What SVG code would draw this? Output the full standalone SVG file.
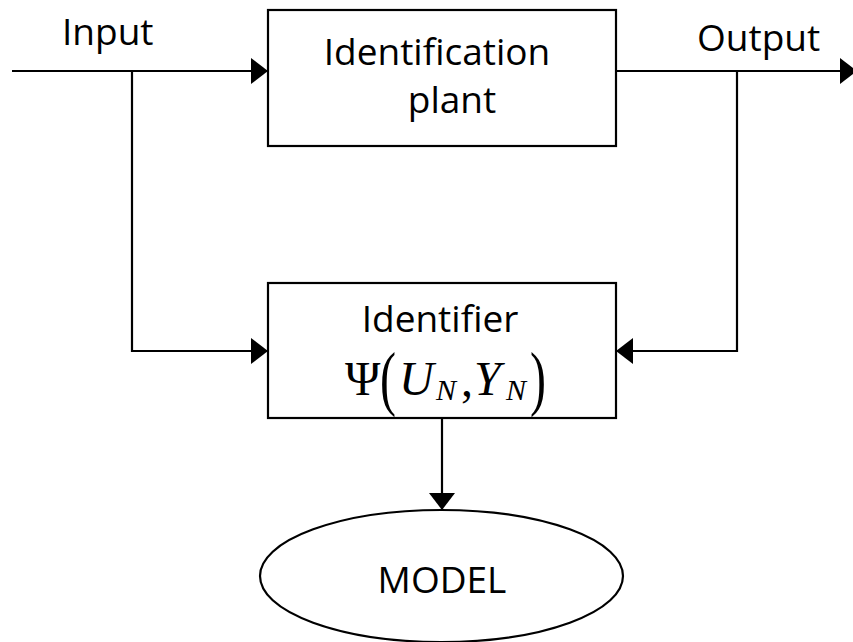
<svg xmlns="http://www.w3.org/2000/svg" width="853" height="642" viewBox="0 0 853 642">
<defs>
<style>
.box{fill:#fff;stroke:#000;stroke-width:2.2}
.wire{fill:none;stroke:#000;stroke-width:2.2}
.lbl{font-family:"Open Sans","Liberation Sans",sans-serif;font-size:37px;fill:#000}
.math{font-family:"Liberation Serif","Times New Roman",serif;fill:#000}
</style>
<marker id="arr" markerUnits="userSpaceOnUse" markerWidth="17" markerHeight="28" viewBox="0 0 17 28" refX="17" refY="14" orient="auto">
<path d="M0,1 L17,14 L0,27 Z" fill="#000"/>
</marker>
</defs>
<rect width="853" height="642" fill="#fff"/>
<g id="connectors">
<path class="wire" d="M12,71 H268" marker-end="url(#arr)"/>
<path class="wire" d="M132,71 V351 H268" marker-end="url(#arr)"/>
<path class="wire" d="M616,71 H857" marker-end="url(#arr)"/>
<path class="wire" d="M737,71 V351 H616" marker-end="url(#arr)"/>
<path class="wire" d="M442,418 V510" marker-end="url(#arr)"/>
</g>
<g id="input-label"><text class="lbl" x="62" y="45">Input</text></g>
<g id="output-label"><text class="lbl" x="697" y="51">Output</text></g>
<g id="plant">
<rect class="box" x="268" y="10" width="348" height="136"/>
<text class="lbl" x="437" y="65" text-anchor="middle">Identification</text>
<text class="lbl" x="452" y="113" text-anchor="middle">plant</text>
</g>
<g id="identifier">
<rect class="box" x="268" y="283" width="348" height="135"/>
<text class="lbl" x="440" y="332" text-anchor="middle">Identifier</text>
<text class="math" x="345" y="395" font-size="48">Ψ</text>
<text class="math" font-size="48" transform="translate(380,402) scale(1,1.5)">(</text>
<text class="math" x="399" y="395" font-size="48" font-style="italic">U</text>
<text class="math" x="436" y="400" font-size="30" font-style="italic">N</text>
<text class="math" x="461" y="396" font-size="48">,</text>
<text class="math" x="474" y="395" font-size="48" font-style="italic">Y</text>
<text class="math" x="506" y="400" font-size="30" font-style="italic">N</text>
<text class="math" font-size="48" transform="translate(530,402) scale(1,1.5)">)</text>
</g>
<g id="model">
<ellipse class="box" cx="441.5" cy="576" rx="181.5" ry="66"/>
<text class="lbl" x="442" y="593" text-anchor="middle" font-size="45">MODEL</text>
</g>
</svg>
